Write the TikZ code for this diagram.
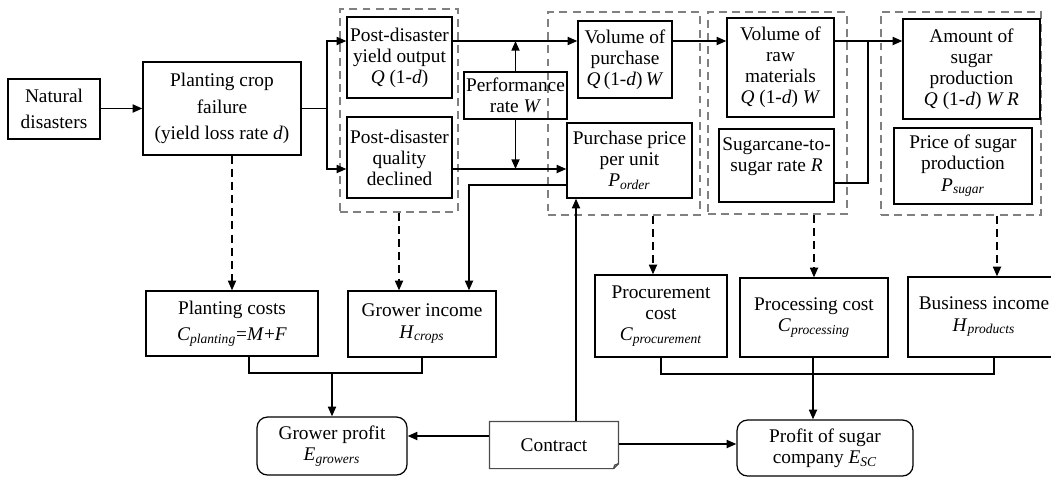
\documentclass[tikz,border=0pt]{standalone}
\usepackage{fontspec}
\setmainfont{Liberation Serif}
\usetikzlibrary{positioning,arrows.meta}
\tikzset{>={Triangle[length=5.5pt,width=4.5pt]}}
\newcommand*{\ita}[1]{\textit{#1}}
\newcommand*{\sbs}[1]{\textsubscript{\textit{#1}}}
\tikzset{
  box/.style={draw,line width=0.7pt,align=center,inner sep=1pt,font=\fontsize{11}{12}\selectfont},
  loose/.style={font=\fontsize{11}{15}\selectfont},
  rbox/.style={box,rounded corners=6pt},
  grp/.style={draw=gray,line width=0.9pt,dash pattern=on 4.5pt off 3pt},
  link/.style={line width=1.1pt},
  arr/.style={->,line width=1.1pt},
  darr/.style={->,line width=1.1pt,dash pattern=on 4.5pt off 3pt}
}

\begin{document}
\begin{tikzpicture}[x=0.02cm,y=-0.02cm]
\useasboundingbox (0,0) rectangle (1051,477);
\clip (0,0) rectangle (1051,477);
% One unit is one pixel of the original figure

% Dashed groups
\node[grp,minimum width=2.36cm,minimum height=4.06cm] (g1) at (399,110.5) {};
\node[grp,minimum width=3.04cm,minimum height=4.06cm] (g2) at (624,113.5) {};
\node[grp,minimum width=2.78cm,minimum height=4.04cm] (g3) at (777.5,113) {};
\node[grp,minimum width=3.2cm,minimum height=4.06cm] (g4) at (961,113.5) {};

% Upper row
\node[box,loose,minimum width=1.84cm,minimum height=1.2cm] (nat) at (54,109) {Natural\\disasters};
\node[box,loose,minimum width=3.16cm,minimum height=1.86cm] (fail) at (222,108.5)
  {Planting crop\\failure\\(yield loss rate \ita{d})};
\node[box,minimum width=2.1cm,minimum height=1.62cm] (yield) at (399.5,57.5)
  {Post-disaster\\yield output\\\ita{Q} (1-\ita{d})};
\node[box,minimum width=2.1cm,minimum height=1.62cm] (qual) at (399.5,157.5)
  {Post-disaster\\quality\\declined};
\node[box,minimum width=2.06cm,minimum height=0.94cm] (perf) at (515.5,95.5)
  {Performance\\rate \ita{W}};
\node[box,minimum width=1.88cm,minimum height=1.54cm] (vol) at (625,59.5)
  {Volume of\\purchase\\\ita{Q}\,(1-\ita{d})\,\ita{W}};
\node[box,minimum width=2.5cm,minimum height=1.5cm] (price) at (629.5,160.5)
  {Purchase price\\per unit\\\ita{P}\sbs{order}};
\node[box,minimum width=2.14cm,minimum height=1.98cm] (raw) at (780.5,67.5)
  {Volume of\\raw\\materials\\\ita{Q} (1-\ita{d}) \ita{W}};
\node[box,minimum width=2.3cm,minimum height=1.46cm] (rate) at (776.5,165.5)
  {Sugarcane-to-\\sugar rate \ita{R}\\\mbox{}};
\node[box,minimum width=2.74cm,minimum height=2cm] (amt) at (971.5,69)
  {Amount of\\sugar\\production\\\ita{Q} (1-\ita{d}) \ita{W R}};
\node[box,minimum width=2.76cm,minimum height=1.52cm] (sp) at (963,166)
  {Price of sugar\\production\\\ita{P}\sbs{sugar}};

% Lower row
\node[box,loose,minimum width=3.44cm,minimum height=1.3cm] (pc) at (232,323.5)
  {Planting costs\\\ita{C}\sbs{planting}=\ita{M}+\ita{F}};
\node[box,minimum width=2.96cm,minimum height=1.32cm] (gi) at (422,324)
  {Grower income\\\ita{H}\sbs{crops}};
\node[box,minimum width=2.64cm,minimum height=1.64cm] (proc) at (661,316)
  {Procurement\\cost\\\ita{C}\sbs{procurement}};
\node[box,minimum width=2.96cm,minimum height=1.58cm] (pcs) at (814,317.5)
  {Processing cost\\\ita{C}\sbs{processing}};
\node[box,minimum width=3.04cm,minimum height=1.6cm] (bi) at (984,317)
  {Business income\\\ita{H}\sbs{products}};
\node[rbox,minimum width=3cm,minimum height=1.16cm] (gp) at (332,446)
  {Grower profit\\\ita{E}\sbs{growers}};
\node[box,draw=none,minimum width=2.56cm,minimum height=0.92cm] (con) at (554,445) {Contract};
\node[rbox,minimum width=3.52cm,minimum height=1.12cm] (esc) at (825,448)
  {Profit of sugar\\company \ita{E}\sbs{SC}};

% Contract sheet with folded corner
\draw[line width=0.7pt,draw=gray!60!black] (con.north west) -- (con.north east)
  -- ([yshift=0.1cm]con.south east) -- ([xshift=-0.1cm]con.south east)
  -- (con.south west) -- cycle;
\draw[line width=0.7pt,draw=gray!60!black] ([xshift=-0.1cm]con.south east)
  -- ([xshift=-0.08cm,yshift=0.07cm]con.south east) -- ([yshift=0.1cm]con.south east);

% Flow lines
\coordinate (top) at (0,41);
\coordinate (mid) at (0,169);
\draw[arr] (nat.east |- fail.west) -- (fail.west);
\draw[link] (fail.east) -- ++(25,0) coordinate (split);
\draw[arr] (split) |- (yield.west |- top);
\draw[arr] (split) |- (qual.west |- mid);
\draw[arr] (yield.east |- top) -- (vol.west |- top);
\draw[arr] (perf.north) -- (perf.north |- top);
\draw[arr] (qual.east |- mid) -- (price.west |- mid);
\draw[arr] (perf.south) -- (perf.south |- mid);
\draw[arr] (vol.east |- top) -- (raw.west |- top);

\coordinate (join) at (868,41);
\draw[link] (raw.east |- top) -- (join);
\draw[link] (rate.east |- 0,183) -| (join);
\draw[arr] (join) -- (amt.west |- top);

\draw[arr] (price.west |- 0,185) -| (gi.north -| 469,0);
\draw[arr] (con.north -| 576,0) -- (price.south -| 576,0);
\draw[arr] (con.west |- 0,436) -- (gp.east |- 0,436);
\draw[arr] (con.east |- 0,444) -- (esc.west |- 0,444);

% Dashed influences
\draw[darr] (fail.south -| pc.north) -- (pc.north);
\draw[darr] (g1.south) -- (g1.south |- gi.north);
\draw[darr] (g2.south -| 653,0) -- (proc.north -| 653,0);
\draw[darr] (g3.south -| pcs.north) -- (pcs.north);
\draw[darr] (g4.south -| 997,0) -- (bi.north -| 997,0);

% Profit brackets
\coordinate (gjoin) at (332,373);
\draw[link] (pc.south -| 249,0) |- (gjoin) -| (gi.south);
\draw[arr] (gjoin) -- (gp.north);
\coordinate (cjoin) at (813,374);
\draw[link] (proc.south) |- (cjoin) -| (bi.south -| 994,0);
\draw[link] (pcs.south -| cjoin) -- (cjoin);
\draw[arr] (cjoin) -- (esc.north -| cjoin);

\end{tikzpicture}
\end{document}
